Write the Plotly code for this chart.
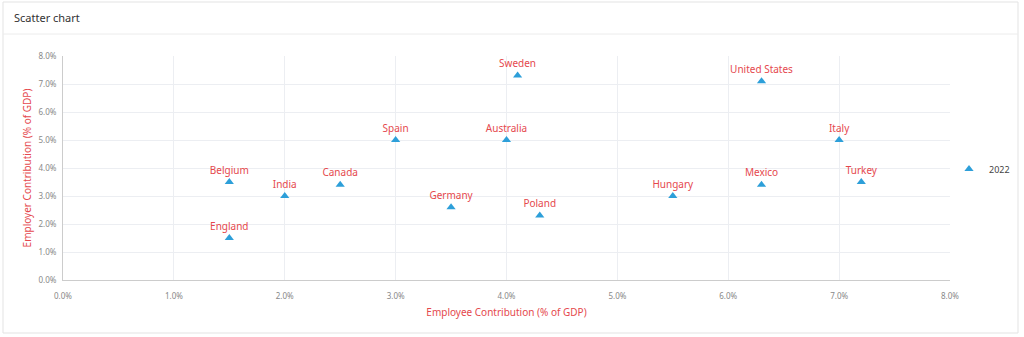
import plotly.graph_objects as go

countries = ["Belgium", "England", "India", "Canada", "Spain", "Germany", "Australia",
             "Sweden", "Poland", "Hungary", "United States", "Mexico", "Italy", "Turkey"]
employee = [1.5, 1.5, 2.0, 2.5, 3.0, 3.5, 4.0, 4.1, 4.3, 5.5, 6.3, 6.3, 7.0, 7.2]
employer = [3.5, 1.5, 3.0, 3.4, 5.0, 2.6, 5.0, 7.3, 2.3, 3.0, 7.1, 3.4, 5.0, 3.5]
series_name = "2022"
ticks = [0, 1, 2, 3, 4, 5, 6, 7, 8]

W, H = 1024, 337
L, R, T, B = 63, 950, 56, 280
pw, ph = R - L, B - T

def px(x):
    return (x - L) / pw

def py(y):
    return (B - y) / ph

FONT = "Noto Sans, Open Sans, sans-serif"
RED = "#e5484d"
BLUE = "#2d9fd9"
TICK = "#888888"

fig = go.Figure()
fig.add_trace(go.Scatter(
    x=employee, y=employer, mode="markers+text", name=series_name,
    text=countries, textposition="top center",
    textfont=dict(color=RED, size=10, family=FONT),
    marker=dict(symbol="triangle-up", size=8, color=BLUE),
    cliponaxis=False,
))

fig.update_layout(
    width=W, height=H,
    margin=dict(l=L, r=W - R, t=T, b=H - B, autoexpand=False),
    paper_bgcolor="white", plot_bgcolor="white",
    font=dict(family=FONT),
    showlegend=True,
    legend=dict(x=px(949), y=py(169), xanchor="left", yanchor="middle",
                font=dict(size=9, color="#444444", family=FONT),
                bgcolor="rgba(0,0,0,0)", itemwidth=30),
    xaxis=dict(range=[0, 8], tickvals=ticks, ticktext=[f"{t:.1f}%" for t in ticks],
               showgrid=True, gridcolor="#eceef2", gridwidth=1,
               showline=True, linecolor="#cccccc", linewidth=1, zeroline=False,
               tickfont=dict(size=8, color=TICK, family=FONT),
               ticks="outside", ticklen=8, tickcolor="rgba(0,0,0,0)",
               title=dict(text="Employee Contribution (% of GDP)",
                          font=dict(size=10, color=RED, family=FONT), standoff=9)),
    yaxis=dict(range=[0, 8], tickvals=ticks, ticktext=[f"{t:.1f}%" for t in ticks],
               showgrid=True, gridcolor="#eceef2", gridwidth=1,
               showline=True, linecolor="#cccccc", linewidth=1, zeroline=False,
               tickfont=dict(size=8, color=TICK, family=FONT),
               ticks="outside", ticklen=4, tickcolor="rgba(0,0,0,0)",
               title=dict(text="Employer Contribution (% of GDP)",
                          font=dict(size=10, color=RED, family=FONT), standoff=4)),
    shapes=[
        dict(type="rect", xref="paper", yref="paper",
             x0=px(3), x1=px(1018), y0=py(333), y1=py(2),
             line=dict(color="#e3e3e3", width=1), fillcolor="rgba(0,0,0,0)", layer="below"),
        dict(type="line", xref="paper", yref="paper",
             x0=px(3), x1=px(1018), y0=py(34), y1=py(34),
             line=dict(color="#ececec", width=1)),
    ],
    annotations=[
        dict(text="Scatter chart", xref="paper", yref="paper",
             x=px(12), y=py(18), xanchor="left", yanchor="middle",
             showarrow=False, font=dict(size=11, color="#333333", family=FONT)),
    ],
)

fig.write_html("out.html")
